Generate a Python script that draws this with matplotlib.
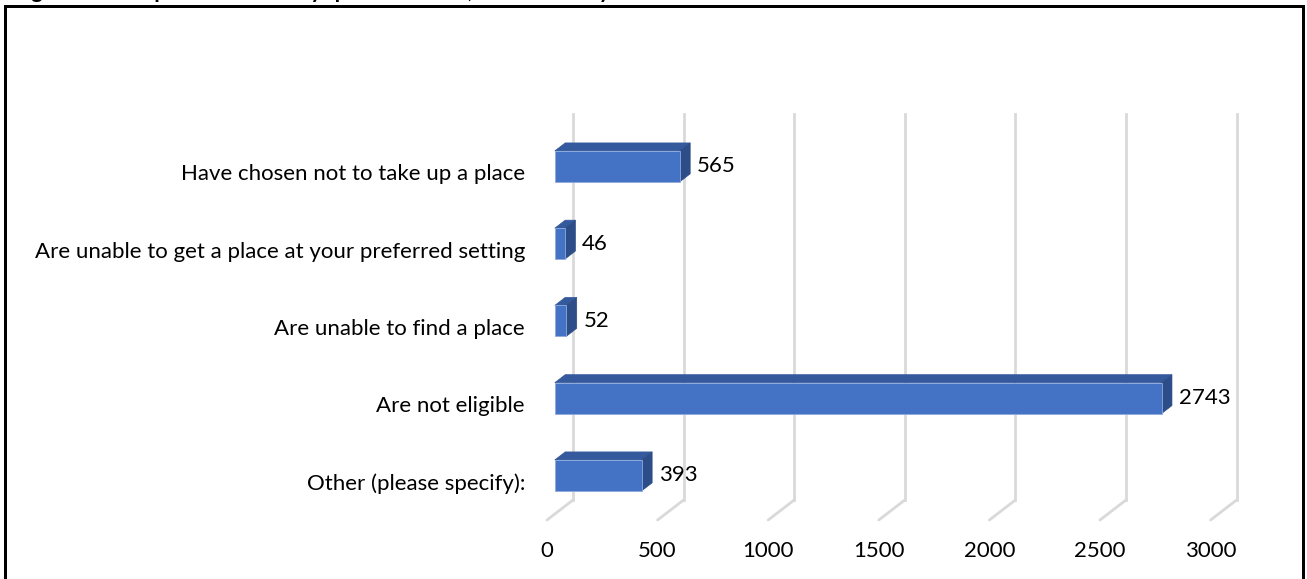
import matplotlib
matplotlib.use("Agg")
import matplotlib.pyplot as plt
from matplotlib.lines import Line2D
from matplotlib.patches import Polygon, Rectangle
from matplotlib.transforms import ScaledTranslation

plt.rcParams["font.family"] = ["Lato", "DejaVu Sans"]

categories = [
    "Other (please specify):",
    "Are not eligible",
    "Are unable to find a place",
    "Are unable to get a place at your preferred setting",
    "Have chosen not to take up a place",
]
responses = [393, 2743, 52, 46, 565]
ticks = [0, 500, 1000, 1500, 2000, 2500, 3000]
title = "Figure 15: Responses to survey question \u2013 No, it's because you:"

FRONT = "#4472C4"
TOP = "#34599C"
SIDE = "#2C4D88"
GRID = "#D9D9D9"
FONT_SIZE = 16

W, H, DPI = 1307, 579, 100
fig = plt.figure(figsize=(W / DPI, H / DPI), dpi=DPI)

# front plane of the 3d plot box, in pixels
x0, x1 = 547, 1210.6
y_floor, y_top = 520, 133.75
ax = fig.add_axes([x0 / W, 1 - y_floor / H, (x1 - x0) / W, (y_floor - y_top) / H])
ax.set_xlim(0, 3000)
ax.set_ylim(-0.5, len(categories) - 0.5)
for s in ax.spines.values():
    s.set_visible(False)
ax.patch.set_visible(False)


def shift(dx, dy):
    # pixel offset (right, up) applied after the data transform
    return ax.transData + ScaledTranslation(dx / DPI, dy / DPI, fig.dpi_scale_trans)


depth_x, depth_y = 26, 20
d_front, d_back = 0.3, 0.7
bar_h = 0.40
px_pt = 72 / DPI

# back wall gridlines plus the floor diagonals running to the front edge
for t in ticks:
    ax.add_line(Line2D([t, t], [-0.5, len(categories) - 0.5], color=GRID, lw=2,
                       transform=shift(depth_x, depth_y), clip_on=False, zorder=1))
    ax.annotate("", xy=(t, -0.5), xycoords="data",
                xytext=(depth_x * px_pt, depth_y * px_pt), textcoords="offset points",
                arrowprops=dict(arrowstyle="-", color=GRID, lw=2, shrinkA=0, shrinkB=0),
                annotation_clip=False, zorder=1)

ypos = list(range(len(categories)))
tf = shift(depth_x * d_front, depth_y * d_front)
tb = shift(depth_x * d_back, depth_y * d_back)
inv = ax.transData.inverted()
for y, v in zip(ypos, responses):
    lo, hi = y - bar_h / 2, y + bar_h / 2
    ax.barh(y, v, height=bar_h, color=FRONT, edgecolor="#8FAADC", lw=0.6,
            transform=tf, zorder=3)
    f_tl, f_tr, f_br = tf.transform([(0, hi), (v, hi), (v, lo)])
    b_tl, b_tr, b_br = tb.transform([(0, hi), (v, hi), (v, lo)])
    ax.add_patch(Polygon(inv.transform([f_tl, f_tr, b_tr, b_tl]), closed=True,
                         facecolor=TOP, edgecolor=TOP, lw=0.5, zorder=2))
    ax.add_patch(Polygon(inv.transform([f_tr, f_br, b_br, b_tr]), closed=True,
                         facecolor=SIDE, edgecolor=SIDE, lw=0.5, zorder=2))
    ax.annotate(str(v), xy=(v, y), xytext=(25 * px_pt, 6 * px_pt),
                textcoords="offset points", va="center", ha="left",
                fontsize=FONT_SIZE, color="black", annotation_clip=False, zorder=4)

ax.set_yticks(ypos, categories)
ax.set_xticks(ticks, [str(t) for t in ticks])
ax.tick_params(axis="y", length=0, pad=22 * px_pt, labelsize=FONT_SIZE)
ax.tick_params(axis="x", length=0, pad=21 * px_pt, labelsize=FONT_SIZE)

# page frame and the caption above it, which runs off the top of the page
fig.add_artist(Rectangle((4.5 / W, -0.1), (W - 8.5) / W, 1.1 - 6.5 / H,
                         transform=fig.transFigure, fill=False, edgecolor="black",
                         lw=3 * px_pt, clip_on=False))
fig.text(13 / W, 1.0 + 2.5 / H, title, ha="left", va="baseline", fontsize=FONT_SIZE,
         fontweight="bold")

fig.savefig("out.png", dpi=DPI)
